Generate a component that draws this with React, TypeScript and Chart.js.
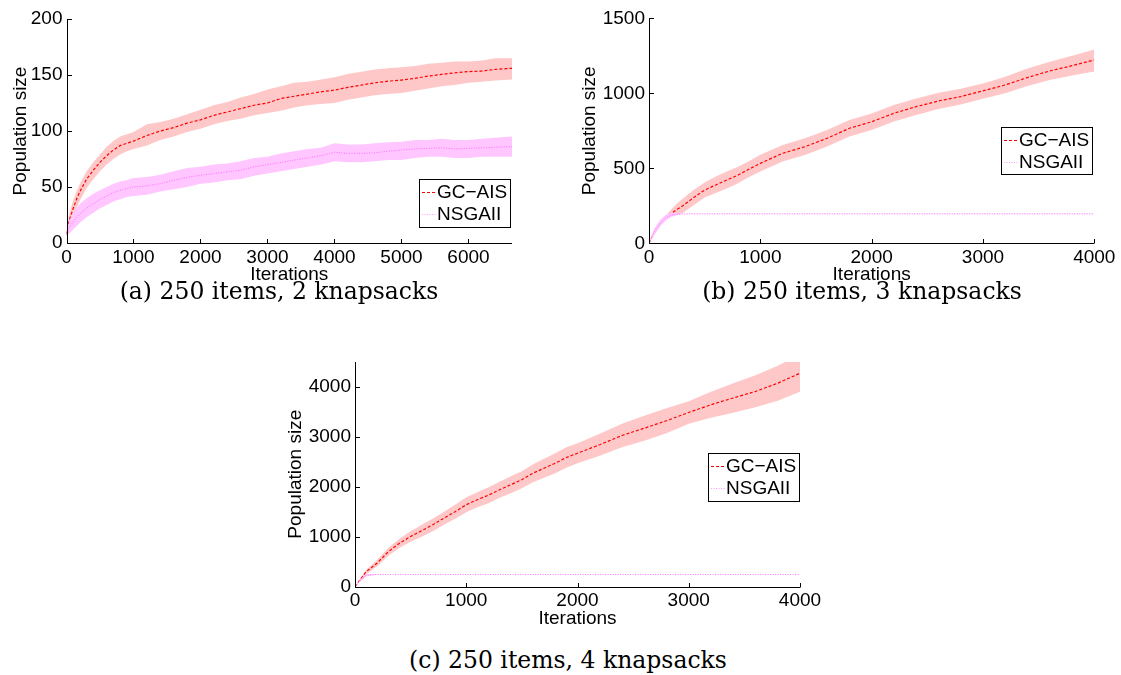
import React, { useEffect, useRef } from "react";
import { Chart, registerables } from "chart.js";

Chart.register(...registerables);

// ---------- text ----------
const SERIES = ["GC\u2212AIS", "NSGAII"];
const X_TITLE = "Iterations";
const Y_TITLE = "Population size";
const CAPTIONS = [
  "(a) 250 items, 2 knapsacks",
  "(b) 250 items, 3 knapsacks",
  "(c) 250 items, 4 knapsacks",
];

// ---------- ticks ----------
const xTicksA = [0, 1000, 2000, 3000, 4000, 5000, 6000];
const yTicksA = [0, 50, 100, 150, 200];
const xTicksB = [0, 1000, 2000, 3000, 4000];
const yTicksB = [0, 500, 1000, 1500];
const xTicksC = [0, 1000, 2000, 3000, 4000];
const yTicksC = [0, 1000, 2000, 3000, 4000];

// ---------- (a) 250 items, 2 knapsacks ----------
const iterA = [0, 25, 50, 100, 150, 200, 300, 400, 500, 600, 700, 800, 900, 1000, 1200, 1400, 1600, 1800, 2000, 2200, 2400, 2600, 2800, 3000, 3200, 3400, 3600, 3800, 4000, 4200, 4400, 4600, 4800, 5000, 5200, 5400, 5600, 5800, 6000, 6200, 6400, 6650];
const gcMeanA = [8, 16, 22, 31, 39, 46, 57, 65, 72, 78, 83, 87, 89, 91, 96, 100, 103, 107, 110, 114, 117, 120, 123, 125, 129, 131, 133, 135, 136.5, 139, 141, 143, 144.5, 145.5, 147, 149, 150.5, 152, 153, 153.5, 155, 156];
const gcHiA = [10, 20, 28, 38, 46, 53, 64, 72, 79, 86, 91, 95, 97, 99, 106, 108, 111, 115, 119, 123, 126, 130, 133, 137, 140, 143, 144, 146, 148, 151, 153, 155, 156, 157, 158, 160, 161, 162, 162, 163, 165, 165];
const gcLoA = [6, 12, 16, 23, 31, 38, 49, 57, 64, 70, 75, 79, 82, 84, 87, 92, 95, 99, 102, 106, 109, 111, 114, 116, 118, 121, 123, 124, 125, 128, 130, 132, 133, 134, 136, 138, 140, 141, 143, 144, 145, 146];
const nsMeanA = [7, 12, 15, 19, 23, 26, 31, 35, 39, 42, 45, 47, 48.5, 50, 51, 53, 56, 58.5, 60.5, 62, 63.5, 65, 68, 70, 72, 74, 76, 78, 81, 80, 80, 80.5, 82, 83, 84, 84.5, 85, 84, 84.5, 85, 85.5, 86];
const nsHiA = [9, 16, 21, 27, 31, 35, 40, 44, 47, 50, 53, 55, 56, 58, 59, 61, 64, 67, 68, 70, 71, 73, 76, 77, 80, 82, 84, 85, 89, 88, 88, 89, 90, 90.5, 92, 92, 93, 92, 92, 93, 94, 95];
const nsLoA = [5, 8, 9, 12, 15, 18, 23, 27, 31, 34, 37, 39, 41, 42, 43, 46, 48, 50, 53, 54, 56, 57, 60, 62, 64, 66, 68, 70, 73, 72, 72, 73, 74, 74, 76, 77, 77, 76, 76, 77, 77, 77];

// ---------- (b) 250 items, 3 knapsacks ----------
const iterB = [0, 50, 100, 150, 200, 250, 300, 400, 500, 600, 700, 800, 900, 1000, 1200, 1400, 1600, 1800, 2000, 2200, 2400, 2600, 2800, 3000, 3200, 3400, 3600, 3800, 4000];
const gcMeanB = [0, 78, 133, 170, 200, 225, 248, 304, 355, 389, 422, 455, 495, 533, 600, 644, 700, 767, 810, 867, 911, 949, 978, 1016, 1056, 1105, 1149, 1184, 1222];
const gcHiB = [0, 95, 150, 185, 225, 265, 295, 355, 405, 445, 478, 510, 548, 590, 655, 700, 755, 822, 866, 922, 966, 1003, 1030, 1066, 1110, 1165, 1210, 1250, 1292];
const gcLoB = [0, 62, 116, 155, 185, 190, 200, 254, 305, 335, 366, 400, 442, 478, 545, 588, 645, 712, 755, 812, 856, 895, 926, 964, 1000, 1048, 1088, 1118, 1145];
const nsMeanB = [0, 78, 133, 170, 188, 194, 196, 196, 196, 196, 196, 196, 196, 196, 196, 196, 196, 196, 196, 196, 196, 196, 196, 196, 196, 196, 196, 196, 196];
const nsHiB = [0, 98, 155, 188, 203, 200, 197, 197, 197, 197, 197, 197, 197, 197, 197, 197, 197, 197, 197, 197, 197, 197, 197, 197, 197, 197, 197, 197, 197];
const nsLoB = [0, 58, 112, 153, 175, 188, 195, 195, 195, 195, 195, 195, 195, 195, 195, 195, 195, 195, 195, 195, 195, 195, 195, 195, 195, 195, 195, 195, 195];

// ---------- (c) 250 items, 4 knapsacks ----------
const iterC = [0, 50, 100, 200, 300, 400, 500, 600, 700, 800, 900, 1000, 1100, 1200, 1300, 1400, 1500, 1600, 1700, 1800, 1900, 2000, 2200, 2400, 2600, 2800, 3000, 3200, 3400, 3600, 3800, 4000];
const gcMeanC = [0, 150, 300, 475, 700, 870, 1005, 1120, 1240, 1370, 1500, 1640, 1740, 1830, 1940, 2040, 2140, 2270, 2370, 2470, 2585, 2670, 2840, 3025, 3170, 3320, 3485, 3640, 3775, 3905, 4070, 4270];
const gcHiC = [0, 180, 340, 540, 780, 960, 1110, 1240, 1365, 1500, 1640, 1790, 1890, 1990, 2100, 2210, 2310, 2450, 2560, 2670, 2790, 2870, 3060, 3260, 3420, 3570, 3710, 3900, 4070, 4230, 4420, 4640];
const gcLoC = [0, 120, 250, 410, 620, 780, 900, 1000, 1110, 1240, 1360, 1490, 1590, 1670, 1780, 1870, 1970, 2090, 2180, 2270, 2380, 2470, 2620, 2790, 2920, 3070, 3260, 3380, 3480, 3590, 3720, 3900];
const nsMeanC = [0, 130, 228, 245, 245, 245, 245, 245, 245, 245, 245, 245, 245, 245, 245, 245, 245, 245, 245, 245, 245, 245, 245, 245, 245, 245, 245, 245, 245, 245, 245, 245];
const nsHiC = [0, 150, 250, 247, 246, 246, 246, 246, 246, 246, 246, 246, 246, 246, 246, 246, 246, 246, 246, 246, 246, 246, 246, 246, 246, 246, 246, 246, 246, 246, 246, 246];
const nsLoC = [0, 110, 205, 242, 244, 244, 244, 244, 244, 244, 244, 244, 244, 244, 244, 244, 244, 244, 244, 244, 244, 244, 244, 244, 244, 244, 244, 244, 244, 244, 244, 244];

// ---------- styles ----------
const FONT = { family: "Liberation Sans", size: 19 };
const GC_COLOR = "#ff0000";
const NS_COLOR = "#ff6cff";
const NS_LEGEND_COLOR = "#ff9cff";
const GC_BAND = "#ffc8c8";
const NS_BAND = "#ffc6ff";

type Box = { x: number; y: number; w: number; h: number };
type Layout = {
  left: number; top: number; w: number; h: number;
  yw: number; xh: number; padTop: number; padRight: number;
  xMax: number; yMax: number; yTitlePad: number; xTitlePad: number;
  legend: Box;
};

const pts = (xs: number[], ys: number[]) => xs.map((x, i) => ({ x, y: ys[i] }));

const decor = {
  id: "decor",
  afterDraw(chart: any, _args: any, opts: any) {
    const ctx = chart.ctx as CanvasRenderingContext2D;
    const a = chart.chartArea;
    const xs = chart.scales.x;
    const ys = chart.scales.y;
    ctx.save();
    ctx.strokeStyle = "#000";
    ctx.lineWidth = 1;
    ctx.setLineDash([]);
    const L = Math.round(a.left) + 0.5;
    const B = Math.round(a.bottom) + 0.5;
    // axes
    ctx.beginPath();
    ctx.moveTo(L, Math.round(a.top));
    ctx.lineTo(L, B);
    ctx.lineTo(Math.round(a.right), B);
    ctx.stroke();
    // inward ticks
    ctx.beginPath();
    xs.ticks.forEach((t: any) => {
      const px = Math.round(xs.getPixelForValue(t.value)) + 0.5;
      ctx.moveTo(px, B);
      ctx.lineTo(px, B - 4.5);
    });
    ys.ticks.forEach((t: any) => {
      const py = Math.round(ys.getPixelForValue(t.value)) + 0.5;
      ctx.moveTo(L, py);
      ctx.lineTo(L + 4.5, py);
    });
    ctx.stroke();
    // legend box
    const lg: Box = opts.legend;
    ctx.fillStyle = "#fff";
    ctx.fillRect(lg.x, lg.y, lg.w, lg.h);
    ctx.strokeRect(lg.x + 0.5, lg.y + 0.5, lg.w, lg.h);
    const items = chart.data.datasets.filter((d: any) => d.inLegend);
    items.forEach((d: any, i: number) => {
      const ry = lg.y + 13 + i * 22;
      ctx.strokeStyle = d.legendColor;
      ctx.lineWidth = 1.2;
      ctx.setLineDash(d.borderDash);
      ctx.beginPath();
      ctx.moveTo(lg.x + 3, ry + 0.5);
      ctx.lineTo(lg.x + 17, ry + 0.5);
      ctx.stroke();
      ctx.setLineDash([]);
      ctx.fillStyle = "#000";
      ctx.font = `${FONT.size}px "${FONT.family}"`;
      ctx.textBaseline = "middle";
      ctx.textAlign = "left";
      ctx.fillText(d.label, lg.x + 18, ry + 1);
    });
    ctx.restore();
  },
};

function buildConfig(
  L: Layout,
  it: number[],
  gcM: number[], gcH: number[], gcL: number[],
  nsM: number[], nsH: number[], nsL: number[],
  xTicks: number[], yTicks: number[]
): any {
  const band = { borderWidth: 0, borderColor: "transparent", pointRadius: 0, inLegend: false };
  return {
    type: "line",
    data: {
      datasets: [
        { ...band, label: "gcHi", data: pts(it, gcH), fill: false, order: 4 },
        { ...band, label: "gcLo", data: pts(it, gcL), fill: "-1", backgroundColor: GC_BAND, order: 4 },
        {
          label: SERIES[0], data: pts(it, gcM), borderColor: GC_COLOR, borderWidth: 1.2,
          borderDash: [3, 2], pointRadius: 0, fill: false, order: 3, inLegend: true, legendColor: GC_COLOR,
        },
        { ...band, label: "nsHi", data: pts(it, nsH), fill: false, order: 2 },
        { ...band, label: "nsLo", data: pts(it, nsL), fill: "-1", backgroundColor: NS_BAND, order: 2 },
        {
          label: SERIES[1], data: pts(it, nsM), borderColor: NS_COLOR, borderWidth: 1,
          borderDash: [1, 1.5], pointRadius: 0, fill: false, order: 1, inLegend: true, legendColor: NS_LEGEND_COLOR,
        },
      ],
    },
    options: {
      responsive: false,
      animation: false,
      events: [],
      layout: { padding: { left: 0, top: L.padTop, right: L.padRight, bottom: 0 } },
      elements: { line: { tension: 0 }, point: { radius: 0 } },
      plugins: {
        legend: { display: false },
        tooltip: { enabled: false },
        filler: { drawTime: "beforeDatasetDraw", propagate: false },
        decor: { legend: L.legend },
      },
      scales: {
        x: {
          type: "linear", min: 0, max: L.xMax,
          afterBuildTicks: (s: any) => { s.ticks = xTicks.map((v) => ({ value: v })); },
          afterFit: (s: any) => { s.height = L.xh; },
          grid: { display: false, drawTicks: false },
          border: { display: false },
          ticks: { color: "#000", font: FONT, padding: 3, maxRotation: 0, autoSkip: false, callback: (v: any) => String(v) },
          title: { display: true, text: X_TITLE, color: "#000", font: FONT, padding: { top: 0, bottom: L.xTitlePad } },
        },
        y: {
          type: "linear", min: 0, max: L.yMax,
          afterBuildTicks: (s: any) => { s.ticks = yTicks.map((v) => ({ value: v })); },
          afterFit: (s: any) => { s.width = L.yw; },
          grid: { display: false, drawTicks: false },
          border: { display: false },
          ticks: { color: "#000", font: FONT, padding: 4, callback: (v: any) => String(v) },
          title: { display: true, text: Y_TITLE, color: "#000", font: FONT, padding: { top: L.yTitlePad, bottom: 0 } },
        },
      },
    },
    plugins: [decor],
  };
}

const layoutA: Layout = {
  left: 0, top: 0, w: 560, h: 300, yw: 66.5, xh: 57, padTop: 19, padRight: 48,
  xMax: 6650, yMax: 200, yTitlePad: 9.6, xTitlePad: 14.3,
  legend: { x: 419, y: 179, w: 91, h: 48 },
};
const layoutB: Layout = {
  left: 560, top: 0, w: 561, h: 300, yw: 89, xh: 56.7, padTop: 18.3, padRight: 26.7,
  xMax: 4000, yMax: 1500, yTitlePad: 18.6, xTitlePad: 14.3,
  legend: { x: 441, y: 127, w: 91, h: 47 },
};
const layoutC: Layout = {
  left: 270, top: 340, w: 560, h: 300, yw: 85, xh: 53.3, padTop: 21.7, padRight: 30,
  xMax: 4000, yMax: 4500, yTitlePad: 14.4, xTitlePad: 10.1,
  legend: { x: 438, y: 113, w: 91, h: 48 },
};

function Panel({ layout, make }: { layout: Layout; make: () => any }) {
  const ref = useRef<HTMLCanvasElement>(null);
  useEffect(() => {
    const chart = new Chart(ref.current as HTMLCanvasElement, make());
    return () => chart.destroy();
  }, []);
  return (
    <canvas
      ref={ref}
      width={layout.w}
      height={layout.h}
      style={{ position: "absolute", left: layout.left, top: layout.top, width: layout.w, height: layout.h }}
    />
  );
}

function Caption({ text, cx, cy }: { text: string; cx: number; cy: number }) {
  return (
    <div
      style={{
        position: "absolute", left: cx - 300, top: cy - 12, width: 600, textAlign: "center",
        fontFamily: "'DejaVu Serif', serif", fontSize: 23.5, lineHeight: "24px", color: "#000",
        whiteSpace: "nowrap",
      }}
    >
      {text}
    </div>
  );
}

export default function App() {
  return (
    <div style={{ position: "absolute", left: 0, top: 0, width: 1121, height: 675, background: "#fff", overflow: "hidden" }}>
      <Panel layout={layoutA} make={() => buildConfig(layoutA, iterA, gcMeanA, gcHiA, gcLoA, nsMeanA, nsHiA, nsLoA, xTicksA, yTicksA)} />
      <Panel layout={layoutB} make={() => buildConfig(layoutB, iterB, gcMeanB, gcHiB, gcLoB, nsMeanB, nsHiB, nsLoB, xTicksB, yTicksB)} />
      <Panel layout={layoutC} make={() => buildConfig(layoutC, iterC, gcMeanC, gcHiC, gcLoC, nsMeanC, nsHiC, nsLoC, xTicksC, yTicksC)} />
      <Caption text={CAPTIONS[0]} cx={279} cy={291} />
      <Caption text={CAPTIONS[1]} cx={862} cy={291} />
      <Caption text={CAPTIONS[2]} cx={568} cy={660} />
    </div>
  );
}
